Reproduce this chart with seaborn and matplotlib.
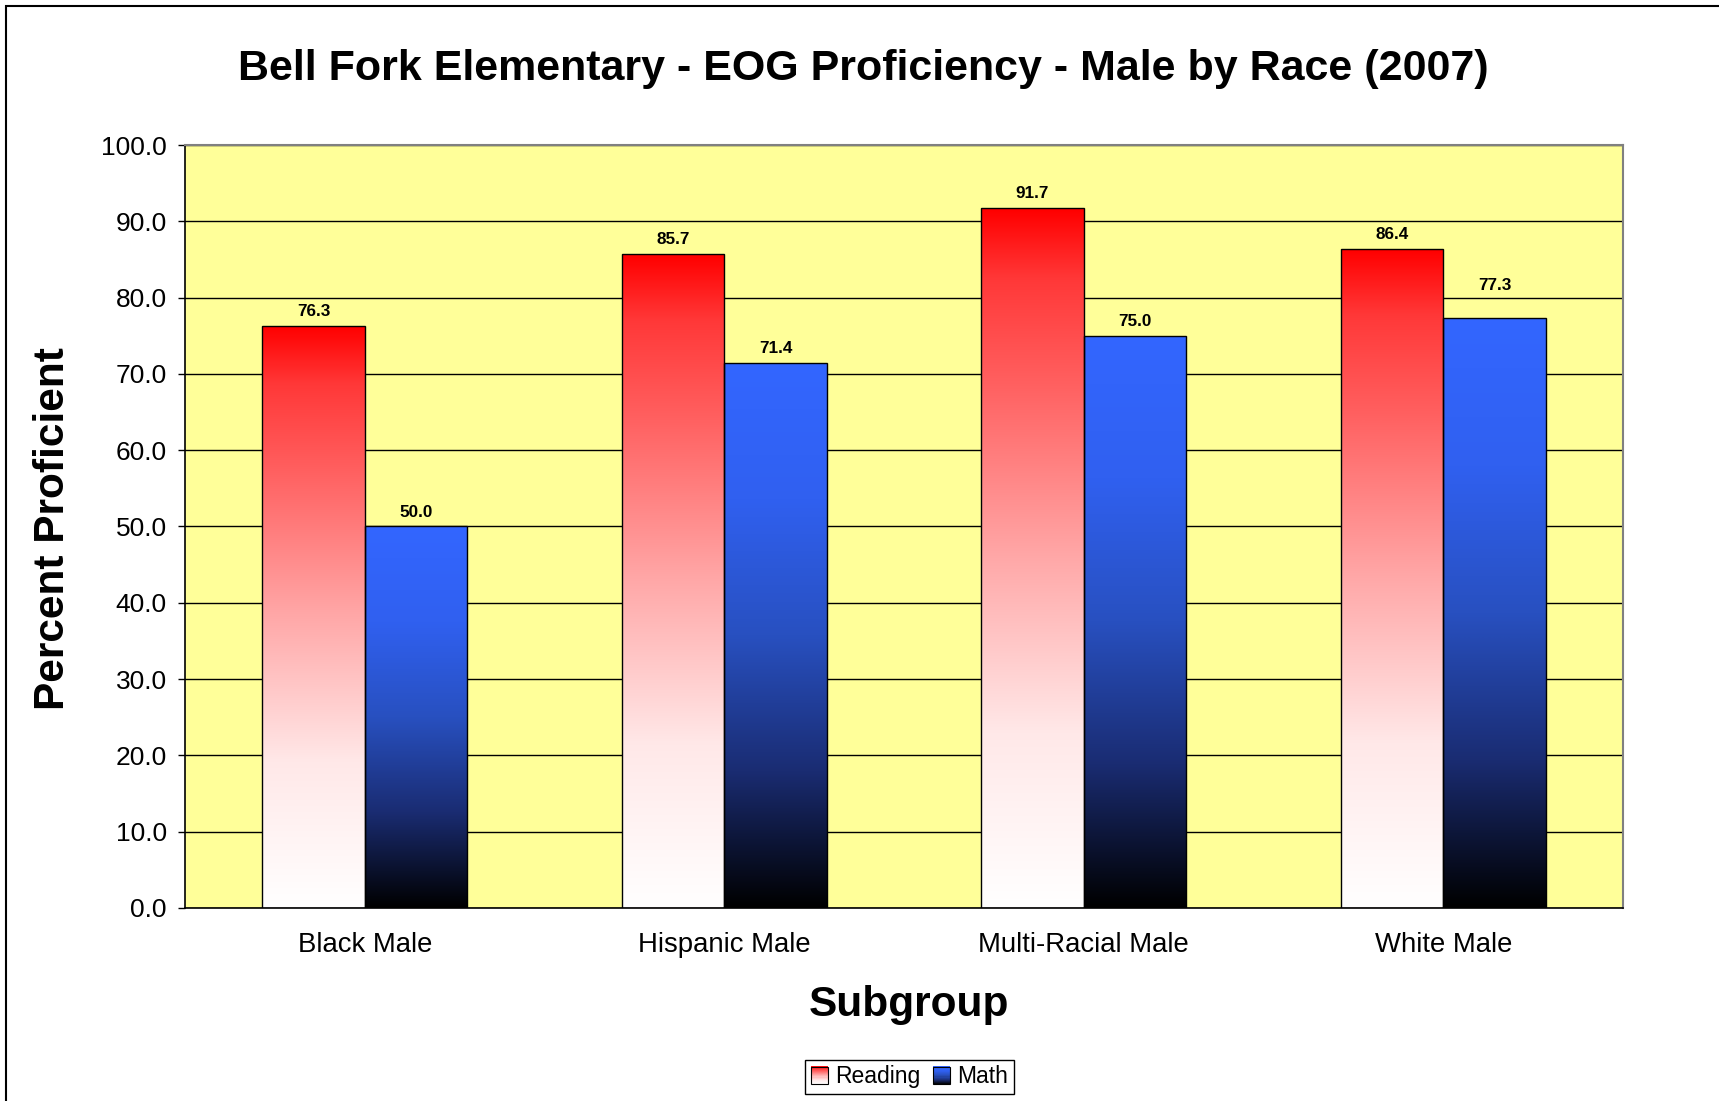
import numpy as np
import pandas as pd
import matplotlib
matplotlib.use("Agg")
import matplotlib.pyplot as plt
import seaborn as sns
from matplotlib.colors import LinearSegmentedColormap
from matplotlib.legend_handler import HandlerBase
from matplotlib.patches import Rectangle

# --- Data ---
subgroups = ["Black Male", "Hispanic Male", "Multi-Racial Male", "White Male"]
reading = [76.3, 85.7, 91.7, 86.4]
math_scores = [50.0, 71.4, 75.0, 77.3]
subjects = ["Reading", "Math"]
y_ticks = [0, 10, 20, 30, 40, 50, 60, 70, 80, 90, 100]

df = pd.DataFrame({
    "Subgroup": subgroups * 2,
    "Subject": [subjects[0]] * len(subgroups) + [subjects[1]] * len(subgroups),
    "Percent": reading + math_scores,
})

# gradient maps: bottom -> top (anchor colours)
cmap_reading = LinearSegmentedColormap.from_list("rd", [
    (0.0, "#FFFFFF"), (0.25, "#FFE8E8"), (0.5, "#FFA8A8"),
    (0.75, "#FF6060"), (0.9, "#FF3838"), (1.0, "#FF0000")])
cmap_math = LinearSegmentedColormap.from_list("bl", [
    (0.0, "#000000"), (0.25, "#1A2C72"), (0.5, "#2850C0"),
    (0.75, "#3060F0"), (1.0, "#3366FF")])

sns.set_style("white")
plt.rcParams["font.family"] = ["Liberation Sans", "DejaVu Sans"]
plt.rcParams["text.color"] = "black"
plt.rcParams["xtick.color"] = "black"
plt.rcParams["ytick.color"] = "black"
plt.rcParams["axes.labelcolor"] = "black"

fig = plt.figure(figsize=(17.19, 11.01), dpi=100)
ax = fig.add_axes([0.1076, 0.1753, 0.8366, 0.693])

sns.barplot(data=df, x="Subgroup", y="Percent", hue="Subject",
            palette={"Reading": "#FF8080", "Math": "#2244AA"},
            width=0.57, gap=0, saturation=1, edgecolor="black", linewidth=1,
            legend=False, ax=ax)

# --- Gradient fills clipped to each bar, plus value labels ---
grad = np.linspace(0, 1, 256).reshape(-1, 1)
bars = list(ax.patches)
for i, bar in enumerate(bars):
    cmap = cmap_reading if i < len(subgroups) else cmap_math
    x0, w, h = bar.get_x(), bar.get_width(), bar.get_height()
    im = ax.imshow(grad, cmap=cmap, origin="lower", aspect="auto",
                   extent=[x0, x0 + w, 0, h], zorder=1.5, interpolation="bicubic")
    im.set_clip_path(bar)
    bar.set_facecolor("none")
    bar.set_zorder(2)
    # label sits just above the bar; nudge it over a gridline it would sit on
    yc = h + 1.9
    for g in y_ticks:
        if abs(yc - g) < 1.1:
            yc = g + 1.6
    ax.text(x0 + w / 2, yc, f"{h:.1f}", ha="center", va="center",
            fontsize=12.3, fontweight="bold", zorder=3)

ax.set_xlim(-0.5, 3.5)
ax.set_ylim(0, 100)
ax.set_facecolor("#FFFF99")
ax.set_axisbelow(True)
ax.yaxis.grid(True, color="black", linewidth=1)
ax.set_yticks(y_ticks)
ax.set_yticklabels([f"{v:.1f}" for v in y_ticks])
ax.tick_params(axis="y", labelsize=19, length=5, width=1, color="black", pad=8, left=True)
ax.tick_params(axis="x", labelsize=19.8, length=0, pad=17)
ax.set_xlabel("")
ax.set_ylabel("")
for side in ["left", "bottom"]:
    ax.spines[side].set_color("black")
    ax.spines[side].set_linewidth(1.2)
for side in ["top", "right"]:
    ax.spines[side].set_color("#808080")
    ax.spines[side].set_linewidth(1.5)

# --- Text ---
fig.text(0.502, 0.937, "Bell Fork Elementary - EOG Proficiency - Male by Race (2007)",
         ha="center", va="center", fontsize=31, fontweight="bold")
fig.text(0.031, 0.520, "Percent Proficient", rotation=90, ha="center", va="center",
         fontsize=30.5, fontweight="bold")
fig.text(0.529, 0.087, "Subgroup", ha="center", va="center", fontsize=30.5, fontweight="bold")


# --- Legend with gradient swatches ---
class GradientHandler(HandlerBase):
    def __init__(self, cmap):
        super().__init__()
        self.cmap = cmap

    def create_artists(self, legend, orig_handle, xdescent, ydescent, width, height, fontsize, trans):
        size = min(width, height)
        x0 = -xdescent + (width - size) / 2
        y0 = -ydescent + (height - size) / 2
        n = 16
        arts = []
        for k in range(n):
            arts.append(Rectangle((x0, y0 + k * size / n), size, size / n + 0.3,
                                  facecolor=self.cmap((k + 0.5) / n), edgecolor="none", transform=trans))
        arts.append(Rectangle((x0, y0), size, size, fill=False, edgecolor="black", linewidth=0.8, transform=trans))
        return arts


h_read = Rectangle((0, 0), 1, 1)
h_math = Rectangle((0, 0), 1, 1)
leg = fig.legend([h_read, h_math], subjects, loc="center", bbox_to_anchor=(0.529, 0.022), ncol=2,
                 handler_map={h_read: GradientHandler(cmap_reading), h_math: GradientHandler(cmap_math)},
                 fontsize=16.5, handlelength=0.8, handleheight=0.8, handletextpad=0.3,
                 columnspacing=0.5, borderpad=0.25, fancybox=False, framealpha=1)
leg.get_frame().set_edgecolor("black")
leg.get_frame().set_linewidth(1)

# outer chart border
fig.patches.append(Rectangle((6 / 1719, -0.01), 1.02, 1 - 6 / 1101 + 0.01, transform=fig.transFigure,
                             fill=False, edgecolor="black", linewidth=1.5))

fig.savefig("out.png", dpi=100)
